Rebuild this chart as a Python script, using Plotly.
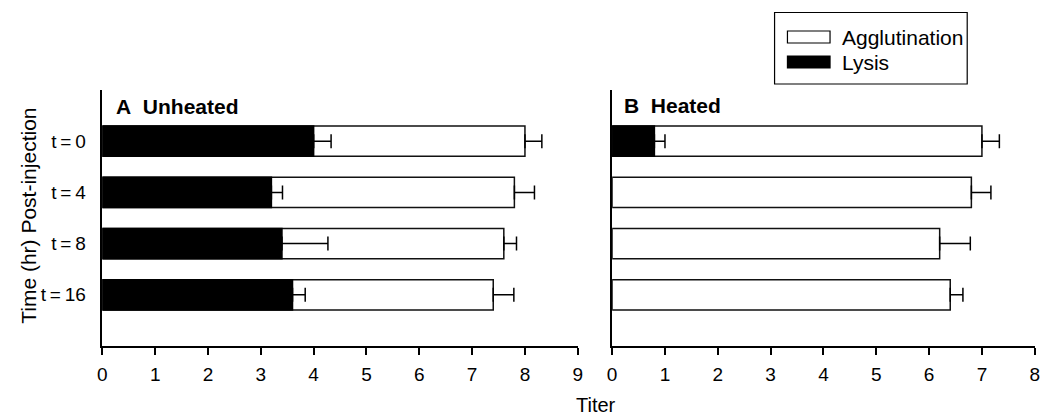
import plotly.graph_objects as go

# ---- data ----
timepoints = ["t\u2009=\u20090", "t\u2009=\u20094", "t\u2009=\u20098", "t\u2009=\u200916"]
ypos = [1, 2, 3, 4]

unheated_agglutination = [8.0, 7.8, 7.6, 7.4]
unheated_agglutination_err = [0.32, 0.38, 0.24, 0.39]
unheated_lysis = [4.0, 3.2, 3.4, 3.6]
unheated_lysis_err = [0.33, 0.21, 0.87, 0.24]

heated_agglutination = [7.0, 6.8, 6.2, 6.4]
heated_agglutination_err = [0.33, 0.37, 0.58, 0.24]
heated_lysis = [0.8, None, None, None]
heated_lysis_err = [0.2, None, None, None]

left_ticks = list(range(0, 10))
right_ticks = list(range(0, 9))

FONT = "Liberation Sans, Arial, sans-serif"
BAR_W = 0.59


def err(vals):
    return dict(type="data", symmetric=False, array=[v if v is not None else 0 for v in vals],
                arrayminus=[0] * len(vals), color="black", thickness=1.5, width=7)


fig = go.Figure()

panels = [
    ("x", "y", unheated_agglutination, unheated_agglutination_err, unheated_lysis, unheated_lysis_err),
    ("x2", "y2", heated_agglutination, heated_agglutination_err, heated_lysis, heated_lysis_err),
]
for xa, ya, agg, agg_e, lys, lys_e in panels:
    fig.add_trace(go.Bar(
        x=agg, y=ypos, orientation="h", width=BAR_W, name="Agglutination",
        marker=dict(color="white", line=dict(color="#111", width=1.5)),
        error_x=err(agg_e), xaxis=xa, yaxis=ya, showlegend=False))
    fig.add_trace(go.Bar(
        x=lys, y=ypos, orientation="h", width=BAR_W, name="Lysis",
        marker=dict(color="black", line=dict(color="black", width=1.5)),
        error_x=err(lys_e), xaxis=xa, yaxis=ya, showlegend=False))

W, H = 1046, 416
ytop, ybot = 90, 346
ydom = [1 - ybot / H, 1 - ytop / H]

xcommon = dict(showgrid=False, zeroline=False, showline=True, linecolor="black", linewidth=1.5,
               ticks="outside", ticklen=7, tickwidth=1.5, tickcolor="black",
               tickfont=dict(size=19, color="black", family=FONT), ticklabelstandoff=3)
ycommon = dict(showgrid=False, zeroline=False, showline=True, linecolor="black", linewidth=1.5,
               range=[5, 0], domain=ydom, tickmode="array", tickvals=ypos,
               ticks="", tickfont=dict(size=19, color="black", family=FONT))

fig.update_layout(
    width=W, height=H, margin=dict(l=0, r=0, t=0, b=0),
    paper_bgcolor="white", plot_bgcolor="white", barmode="overlay", showlegend=False,
    font=dict(family=FONT, color="black"),
    xaxis=dict(xcommon, domain=[98.3 / W, 578.3 / W], range=[0, 9], tickvals=left_ticks,
               anchor="y"),
    xaxis2=dict(xcommon, domain=[613 / W, 1039.7 / W], range=[0, 8], tickvals=right_ticks,
                anchor="y2"),
    yaxis=dict(ycommon, ticktext=timepoints, anchor="x", ticklabelstandoff=11),
    yaxis2=dict(ycommon, ticktext=["", "", "", ""], showticklabels=False, anchor="x2"),
)

# panel titles
fig.add_annotation(x=110 / W, y=1 - 106 / H, xref="paper", yref="paper", xanchor="left",
                   yanchor="middle", text="<b>A\u00a0\u00a0Unheated</b>", showarrow=False,
                   font=dict(size=21, family=FONT))
fig.add_annotation(x=623 / W, y=1 - 105 / H, xref="paper", yref="paper", xanchor="left",
                   yanchor="middle", text="<b>B\u00a0\u00a0Heated</b>", showarrow=False,
                   font=dict(size=21, family=FONT))

# axis titles
fig.add_annotation(x=597 / W, y=1 - 405 / H, xref="paper", yref="paper", xanchor="center",
                   yanchor="middle", text="Titer", showarrow=False, font=dict(size=20, family=FONT))
fig.add_annotation(x=23 / W, y=1 - 216 / H, xref="paper", yref="paper", xanchor="center",
                   yanchor="middle", text="Time (hr) Post-injection", textangle=-90,
                   showarrow=False, font=dict(size=21, family=FONT))

# legend (manual, wide swatches)
fig.add_shape(type="rect", xref="paper", yref="paper", x0=777 / W, x1=971.5 / W,
              y0=1 - 84 / H, y1=1 - 12.5 / H, line=dict(color="black", width=1.2),
              fillcolor="white")
legend_items = [("Agglutination", "white", 37), ("Lysis", "black", 62)]
for label, color, yc in legend_items:
    fig.add_shape(type="rect", xref="paper", yref="paper", x0=790 / W, x1=833 / W,
                  y0=1 - (yc + 6) / H, y1=1 - (yc - 6) / H,
                  line=dict(color="black", width=1.2), fillcolor=color)
    fig.add_annotation(x=843 / W, y=1 - yc / H, xref="paper", yref="paper", xanchor="left",
                       yanchor="middle", text=label, showarrow=False,
                       font=dict(size=21, family=FONT))

fig.write_html("out.html")
